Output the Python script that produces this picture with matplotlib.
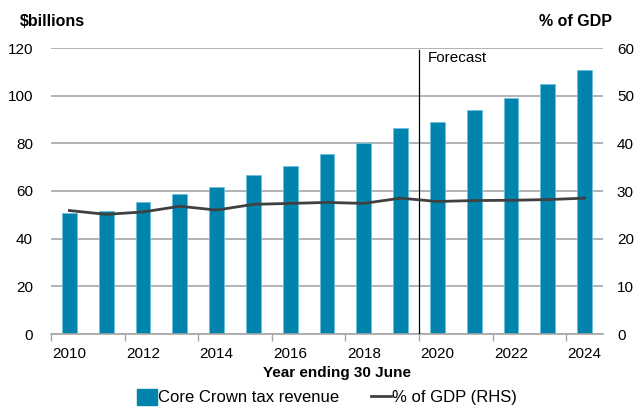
import matplotlib
matplotlib.use("Agg")
import matplotlib.pyplot as plt
from matplotlib.patches import Patch
from matplotlib.lines import Line2D
import numpy as np

plt.rcParams['font.family'] = ['Liberation Sans', 'DejaVu Sans']

years = [2010, 2011, 2012, 2013, 2014, 2015, 2016, 2017,
         2018, 2019, 2020, 2021, 2022, 2023, 2024]
tax_revenue = [50.9, 51.6, 55.3, 58.7, 61.7, 66.7, 70.5, 75.5,
               80.1, 86.4, 88.8, 94.1, 99.0, 104.9, 110.6]
pct_gdp = [25.9, 25.1, 25.6, 26.8, 26.0, 27.2, 27.4, 27.6,
           27.4, 28.5, 27.8, 28.0, 28.05, 28.2, 28.5]
forecast_start = 2020

bar_col = '#0083ad'
edge_col = '#6cc0dc'
line_col = '#404040'
grid_col = '#a6a6a6'

fig = plt.figure(figsize=(6.36, 4.07), dpi=100)
W, H = 636, 407
ax = fig.add_axes([51 / W, 1 - 334 / H, 552 / W, 286 / H])

x = np.arange(len(years))
ax.bar(x, tax_revenue, width=0.4, color=bar_col, edgecolor=edge_col,
       linewidth=0.6, zorder=3)

ax.set_xlim(-0.5, len(years) - 0.5)
ax.set_ylim(0, 120)
ax.set_yticks(np.arange(0, 121, 20))
ax.yaxis.grid(True, color=grid_col, linewidth=1.2, zorder=0)
ax.set_axisbelow(True)
for s in ['left', 'right', 'top']:
    ax.spines[s].set_visible(False)
ax.spines['bottom'].set_color(grid_col)
ax.spines['bottom'].set_linewidth(1.2)
ax.spines['bottom'].set_zorder(4)

# ticks on category boundaries, labels on every second year
ax.set_xticks(np.arange(-0.5, len(years) - 1, 2))
ax.set_xticklabels([])
ax.set_xticks(x[::2], minor=True)
ax.set_xticklabels([str(y) for y in years[::2]], minor=True)
ax.tick_params(axis='x', which='major', length=5, width=1, color=grid_col)
ax.tick_params(axis='x', which='minor', length=0, pad=9, labelsize=11)
ax.tick_params(axis='y', length=0, pad=13, labelsize=11)

# forecast divider
fx = years.index(forecast_start) - 0.5
ax.plot([fx, fx], [0, 119.2], color='black', linewidth=0.9, zorder=5)
ax.text(fx + 0.25, 116, 'Forecast', fontsize=11, va='center', ha='left')

ax2 = ax.twinx()
ax2.set_ylim(0, 60)
ax2.set_yticks(np.arange(0, 61, 10))
ax2.plot(x, pct_gdp, color=line_col, linewidth=2, zorder=6)
for s in ['left', 'right', 'top', 'bottom']:
    ax2.spines[s].set_visible(False)
ax2.tick_params(axis='y', length=0, pad=10, labelsize=11)

fig.text(20 / W, 1 - 21 / H, '$billions', fontsize=11.5, fontweight='bold',
         va='center', ha='left')
fig.text(612 / W, 1 - 21 / H, '% of GDP', fontsize=11.5, fontweight='bold',
         va='center', ha='right')
fig.text(337 / W, 1 - 373 / H, 'Year ending 30 June', fontsize=11,
         fontweight='bold', va='center', ha='center')

handles = [Patch(facecolor=bar_col, edgecolor=bar_col),
           Line2D([0], [0], color=line_col, linewidth=2)]
fig.legend(handles, ['Core Crown tax revenue', '% of GDP (RHS)'],
           loc='center', bbox_to_anchor=(327 / W, 1 - 397 / H), ncol=2,
           frameon=False, fontsize=12, handlelength=1.2, handleheight=1.1,
           handletextpad=0.05, columnspacing=1.9, borderpad=0)

fig.savefig('out.png', dpi=100)
